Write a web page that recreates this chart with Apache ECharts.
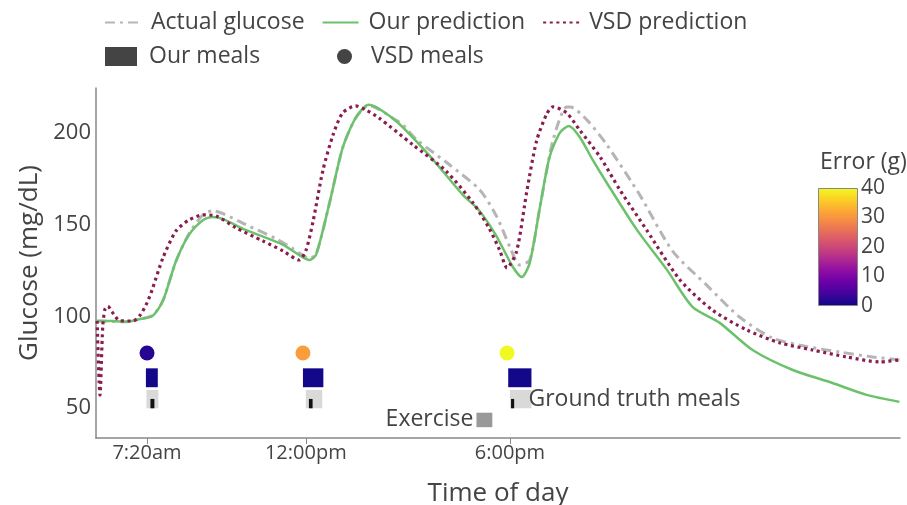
<!DOCTYPE html>
<html>
<head>
<meta charset="utf-8"/>
<script src="https://cdn.jsdelivr.net/npm/echarts@6.0.0/dist/echarts.min.js"></script>
<style>
  html, body { margin: 0; padding: 0; background: #fff; }
  #main { width: 907px; height: 505px; }
</style>
</head>
<body>
<div id="main"></div>
<script>
// time is minutes after midnight (values past 1440 are the next morning)
var actualGlucose = [
  [352, 97.4], [403, 97], [428, 98.5], [450, 100.5], [468, 108.5], [491, 130],
  [514, 145], [539, 155.5], [556, 157.5], [574, 156], [614, 150], [667, 142.4],
  [697, 137], [726, 131.8], [738, 133.5], [761, 160.7], [785, 191.8], [808, 208.2],
  [831, 215], [879, 207], [891, 204.4], [916, 196.2], [974, 182.5], [1027, 168.9],
  [1057, 154.2], [1080, 137.8], [1097, 128], [1115, 130.7], [1133, 159.6], [1156, 196],
  [1180, 214.2], [1186, 214.2], [1216, 207], [1251, 193.5], [1309, 166.2], [1367, 135.5],
  [1427, 117], [1485, 99.6], [1544, 88], [1603, 83.5], [1662, 80.5], [1720, 77.8], [1767, 76.2]
];
var ourPrediction = [
  [352, 97.4], [380, 97.4], [403, 97], [428, 98.5], [450, 100.2], [468, 108.4],
  [491, 130], [514, 144.4], [539, 152.5], [556, 154.2], [574, 153], [614, 147.1],
  [680, 139], [710, 133], [726, 130.7], [738, 133.5], [761, 160.7], [785, 191.8],
  [808, 208.2], [831, 215.3], [879, 206.5], [937, 188], [997, 166.2], [1025, 158],
  [1055, 144.4], [1085, 127], [1101, 121.4], [1115, 129.1], [1133, 159.6], [1150, 186.9],
  [1168, 200], [1184, 203.8], [1203, 197.8], [1226, 185.3], [1251, 172.7], [1304, 147.1],
  [1357, 125.3], [1402, 105.1], [1450, 96.4], [1508, 81.6], [1579, 70.7], [1649, 63.6],
  [1709, 57.1], [1767, 53.3]
];
var vsdPrediction = [
  [352, 97.5], [357, 57], [362, 95], [366, 104], [371, 105.5], [378, 102.5],
  [392, 97.6], [415, 97.4], [428, 100.7], [440, 107.3], [449, 114.4], [468, 131.8],
  [491, 146.5], [514, 152.5], [539, 155.3], [562, 154.7], [597, 148.2], [644, 141.1],
  [680, 135.6], [708, 130.7], [720, 135.6], [733, 152], [750, 179.3], [768, 198.9],
  [785, 210.9], [808, 214.7], [826, 212.5], [849, 208.2], [909, 193.5], [967, 179.3],
  [1015, 161.8], [1043, 148.2], [1062, 136], [1075, 126.4], [1092, 135.6], [1110, 168.4],
  [1127, 195.6], [1145, 210.4], [1156, 214.2], [1180, 210.9], [1203, 201.6], [1239, 186.9],
  [1274, 168.9], [1321, 147.1], [1380, 119.8], [1437, 103.4], [1498, 92.5], [1556, 85.5],
  [1614, 81.6], [1674, 77.8], [1732, 75.1], [1767, 76.2]
];

// meals: start / end minute and carb error (g)
var ourMealStart = [438, 715, 1077];
var ourMealEnd = [459, 751, 1118];
var ourMealError = [0.5, 0.5, 0.5];
var vsdMealTime = [440, 715, 1075];
var vsdMealError = [2, 31, 40];
var truthMealStart = [439, 720, 1080];
var truthMealEnd = [460, 749, 1118];
var truthMarkStart = [446, 725.5, 1082];
var truthMarkEnd = [453, 732, 1087.5];
var exerciseStart = [1021];
var exerciseEnd = [1049];

var xTickValues = [440, 720, 1080];
var xTickLabels = ['7:20am', '12:00pm', '6:00pm'];
var yTickValues = [50, 100, 150, 200];
var errorTicks = [0, 10, 20, 30, 40];

// rows (glucose units) where the meal markers sit
var VSD_ROW = 80;
var OUR_ROW = [61.3, 71.6];
var TRUTH_ROW = [49.8, 59.8];
var MARK_ROW = [49.8, 54.9];
var EXERCISE_ROW = [39.5, 47.4];

var FONT = 'Open Sans';
var TXT = '#444';
var plasma = ['#0d0887', '#41049d', '#6a00a8', '#8f0da4', '#b12a90', '#cc4778',
              '#e16462', '#f2844b', '#fca636', '#fcce25', '#f0f921'];

function rectBetween(api, x0, x1, row) {
  var a = api.coord([x0, row[1]]);
  var b = api.coord([x1, row[0]]);
  return { x: a[0], y: a[1], width: b[0] - a[0], height: b[1] - a[1] };
}

var myChart = echarts.init(document.getElementById('main'));

myChart.setOption({
  animation: false,
  textStyle: { fontFamily: FONT, color: TXT },
  legend: [
    {
      left: 99, top: 6, itemWidth: 36, itemHeight: 14, itemGap: 17,
      itemStyle: { opacity: 0 },
      textStyle: { fontSize: 23, color: TXT, padding: [0, 0, 0, 5] },
      data: ['Actual glucose', 'Our prediction', 'VSD prediction']
    },
    {
      left: 100, top: 40, itemWidth: 32, itemHeight: 19,
      textStyle: { fontSize: 23, color: TXT, padding: [0, 0, 0, 7] },
      data: [{ name: 'Our meals', icon: 'rect', itemStyle: { color: '#444' } }]
    },
    {
      left: 332, top: 40, itemWidth: 15, itemHeight: 15,
      textStyle: { fontSize: 23, color: TXT, padding: [0, 0, 0, 14] },
      data: [{ name: 'VSD meals', icon: 'circle', itemStyle: { color: '#444' } }]
    }
  ],
  title: {
    text: 'Error (g)', left: 815, top: 146,
    textStyle: { fontFamily: FONT, fontSize: 23, fontWeight: 'normal', color: TXT }
  },
  visualMap: {
    show: false, type: 'continuous', min: 0, max: 40, dimension: 2,
    seriesIndex: [3, 4], inRange: { color: plasma }
  },
  grid: [
    { left: 96, right: 7, top: 88, bottom: 67, outerBoundsMode: 'none' },
    { left: 818, top: 188, width: 40, height: 118, outerBoundsMode: 'none' }
  ],
  xAxis: [
    {
      type: 'value', gridIndex: 0, min: 350, max: 1768,
      name: 'Time of day', nameLocation: 'middle', nameGap: 43,
      nameTextStyle: { fontSize: 26, color: TXT },
      axisLine: { lineStyle: { color: '#888', width: 1.5 } },
      axisTick: { show: true, length: 6, customValues: xTickValues, lineStyle: { color: '#888' } },
      axisLabel: {
        customValues: xTickValues, fontSize: 20, color: TXT, margin: 5,
        formatter: function (v) { return xTickLabels[xTickValues.indexOf(v)]; }
      },
      splitLine: { show: false }
    },
    {
      type: 'category', gridIndex: 1, data: ['err'], show: false
    }
  ],
  yAxis: [
    {
      type: 'value', gridIndex: 0, min: 33.6, max: 224.5,
      name: 'Glucose (mg/dL)', nameLocation: 'middle', nameGap: 53,
      nameTextStyle: { fontSize: 26, color: TXT },
      axisLine: { show: true, lineStyle: { color: '#888', width: 1.5 } },
      axisTick: { show: false },
      axisLabel: { customValues: yTickValues, fontSize: 22, color: TXT, margin: 5 },
      splitLine: { show: false }
    },
    {
      type: 'value', gridIndex: 1, min: 0, max: 40, interval: 10, position: 'right',
      axisLine: { show: false }, axisTick: { show: false }, splitLine: { show: false },
      axisLabel: { fontSize: 21, color: TXT, margin: 3 }
    }
  ],
  series: [
    {
      name: 'Actual glucose', type: 'line', symbol: 'none', smooth: 0.25,
      data: actualGlucose, z: 2,
      lineStyle: { color: '#b5b5b5', width: 3, type: [10, 5, 3, 5] },
      itemStyle: { color: '#b5b5b5' }
    },
    {
      name: 'Our prediction', type: 'line', symbol: 'none', smooth: 0.25,
      data: ourPrediction, z: 3,
      lineStyle: { color: '#6cc26c', width: 2.5 },
      itemStyle: { color: '#6cc26c' }
    },
    {
      name: 'VSD prediction', type: 'line', symbol: 'none', smooth: 0.25,
      data: vsdPrediction, z: 4,
      lineStyle: { color: '#8b1c4e', width: 3.2, type: [3, 3.6] },
      itemStyle: { color: '#8b1c4e' }
    },
    {
      name: 'Our meals', type: 'custom',
      encode: { x: [0, 1] },
      data: ourMealStart.map(function (s, i) { return [s, ourMealEnd[i], ourMealError[i]]; }),
      renderItem: function (params, api) {
        return {
          type: 'rect',
          shape: rectBetween(api, api.value(0), api.value(1), OUR_ROW),
          style: { fill: api.visual('color') }
        };
      }
    },
    {
      name: 'VSD meals', type: 'scatter', symbol: 'circle', symbolSize: 15,
      itemStyle: { opacity: 1 },
      data: vsdMealTime.map(function (t, i) { return [t, VSD_ROW, vsdMealError[i]]; })
    },
    {
      name: 'Ground truth', type: 'custom',
      encode: { x: [0, 1] },
      data: truthMealStart.map(function (s, i) { return [s, truthMealEnd[i], truthMarkStart[i], truthMarkEnd[i]]; }),
      renderItem: function (params, api) {
        var last = params.dataIndex === truthMealStart.length - 1;
        return {
          type: 'group',
          children: [
            {
              type: 'rect',
              shape: rectBetween(api, api.value(0), api.value(1), TRUTH_ROW),
              style: { fill: '#d9d9d9' },
              textContent: last ? {
                style: { text: 'Ground truth meals', fontFamily: FONT, fontSize: 23, fill: TXT }
              } : undefined,
              textConfig: last ? { position: 'right', distance: -3 } : undefined
            },
            {
              type: 'rect',
              shape: rectBetween(api, api.value(2), api.value(3), MARK_ROW),
              style: { fill: '#111' }
            }
          ]
        };
      }
    },
    {
      name: 'Exercise', type: 'custom',
      encode: { x: [0, 1] },
      data: exerciseStart.map(function (s, i) { return [s, exerciseEnd[i]]; }),
      renderItem: function (params, api) {
        return {
          type: 'rect',
          shape: rectBetween(api, api.value(0), api.value(1), EXERCISE_ROW),
          style: { fill: '#999' },
          textContent: { style: { text: 'Exercise', fontFamily: FONT, fontSize: 23, fill: TXT } },
          textConfig: { position: 'left', distance: 3 }
        };
      }
    },
    {
      name: 'Error scale', type: 'bar', xAxisIndex: 1, yAxisIndex: 1,
      barWidth: '100%', data: [errorTicks[errorTicks.length - 1]],
      itemStyle: {
        borderColor: '#888', borderWidth: 1,
        color: new echarts.graphic.LinearGradient(0, 1, 0, 0,
          plasma.map(function (c, i) { return { offset: i / (plasma.length - 1), color: c }; }))
      }
    }
  ]
});
</script>
</body>
</html>
